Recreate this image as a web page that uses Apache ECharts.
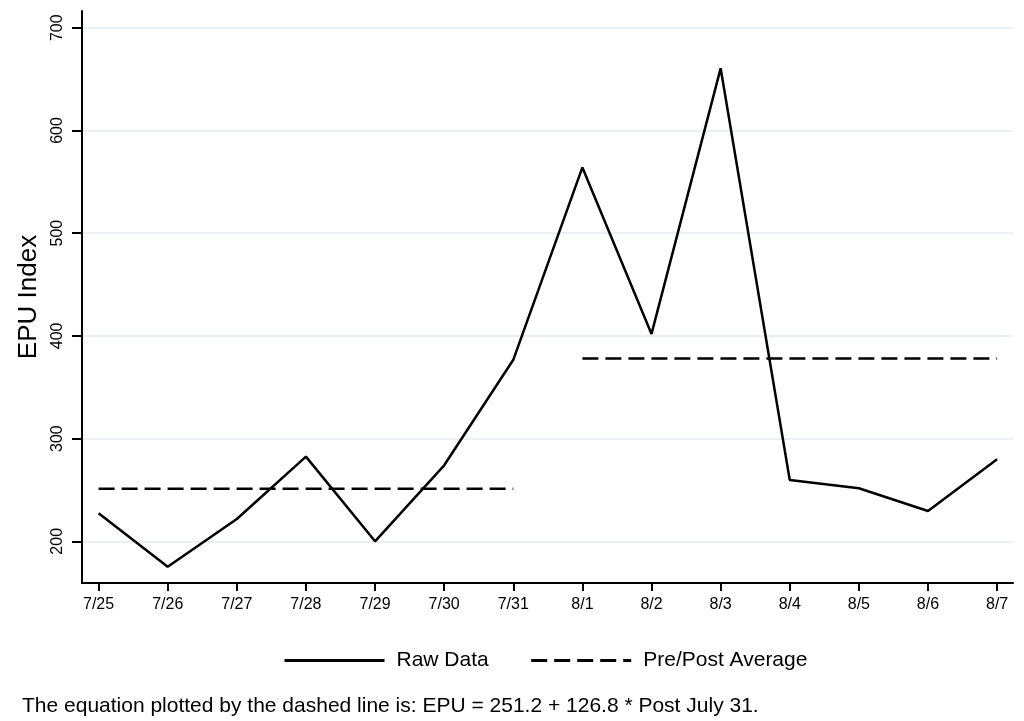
<!DOCTYPE html>
<html>
<head>
<meta charset="utf-8">
<script src="https://cdn.jsdelivr.net/npm/echarts@6/dist/echarts.min.js"></script>
<style>
  html, body { margin: 0; padding: 0; background: #fff; }
  #chart_epu { width: 1024px; height: 721px; }
</style>
</head>
<body>
<div id="chart_epu"></div>
<script>
var fontsty = 'Liberation Sans, Arial, sans-serif';

// days on the x axis
var dates = ['7/25', '7/26', '7/27', '7/28', '7/29', '7/30', '7/31',
             '8/1', '8/2', '8/3', '8/4', '8/5', '8/6', '8/7'];
// EPU index
var rawData = [227.3, 175.3, 221.7, 282.4, 200.0, 274.0, 376.7,
               564.0, 401.9, 660.5, 259.7, 251.6, 229.5, 280.0];
// fitted pre / post averages (EPU = 251.2 + 126.8 * Post July 31)
var preAvg = [251.2, 251.2, 251.2, 251.2, 251.2, 251.2, 251.2];
var postAvg = [378.0, 378.0, 378.0, 378.0, 378.0, 378.0, 378.0];
var yTicks = [200, 300, 400, 500, 600, 700];
var xTicks = [0, 1, 2, 3, 4, 5, 6, 7, 8, 9, 10, 11, 12, 13];
var note = 'The equation plotted by the dashed line is: EPU = 251.2 + 126.8 * Post July 31.';

var myChart = echarts.init(document.getElementById('chart_epu'));

function toPairs(vals, offset) {
  var out = [];
  for (var i = 0; i < vals.length; i++) {
    out.push([i + offset, vals[i]]);
  }
  return out;
}

var dashStyle = { color: '#000', width: 2.5, type: [16, 7] };

option = {
  animation: false,
  grid: { left: 82, right: 11, top: 11, bottom: 138 },
  xAxis: {
    type: 'value',
    min: -0.24,
    max: 13.23,
    axisLine: { onZero: false, lineStyle: { color: '#000', width: 2 } },
    axisTick: { customValues: xTicks, length: 8, lineStyle: { color: '#000', width: 2 } },
    axisLabel: {
      customValues: xTicks,
      margin: 14,
      fontSize: 16,
      color: '#000',
      fontFamily: fontsty,
      formatter: function (v) { return dates[Math.round(v)]; }
    },
    splitLine: { show: false }
  },
  yAxis: {
    type: 'value',
    min: 159.4,
    max: 716.3,
    name: 'EPU Index',
    nameLocation: 'middle',
    nameGap: 31,
    nameTextStyle: { fontSize: 26, color: '#000', fontFamily: fontsty },
    axisLine: { show: true, onZero: false, lineStyle: { color: '#000', width: 2 } },
    axisTick: { show: true, customValues: yTicks, length: 10, lineStyle: { color: '#000', width: 2 } },
    axisLabel: {
      customValues: yTicks,
      rotate: 90,
      margin: 16,
      fontSize: 16,
      color: '#000',
      fontFamily: fontsty
    },
    splitLine: { show: true, lineStyle: { color: '#eaf1f2', width: 2 } }
  },
  legend: {
    left: 278,
    top: 645,
    itemWidth: 100,
    itemHeight: 14,
    itemGap: 41,
    itemStyle: { opacity: 0 },
    lineStyle: { width: 3 },
    textStyle: { fontSize: 21, color: '#000', fontFamily: fontsty, padding: [0, 0, 0, 7] },
    data: ['Raw Data', 'Pre/Post Average']
  },
  graphic: [{
    type: 'text',
    left: 22,
    top: 696,
    style: { text: note, fontSize: 21, fill: '#000', fontFamily: fontsty }
  }],
  series: [
    {
      name: 'Raw Data',
      type: 'line',
      data: toPairs(rawData, 0),
      symbol: 'none',
      lineStyle: { color: '#000', width: 2.5 },
      itemStyle: { color: '#000' }
    },
    {
      name: 'Pre/Post Average',
      type: 'line',
      data: toPairs(preAvg, 0),
      symbol: 'none',
      lineStyle: dashStyle,
      itemStyle: { color: '#000' }
    },
    {
      name: 'Pre/Post Average',
      type: 'line',
      data: toPairs(postAvg, 7),
      symbol: 'none',
      lineStyle: dashStyle,
      itemStyle: { color: '#000' }
    }
  ]
};
myChart.setOption(option);
</script>
</body>
</html>
